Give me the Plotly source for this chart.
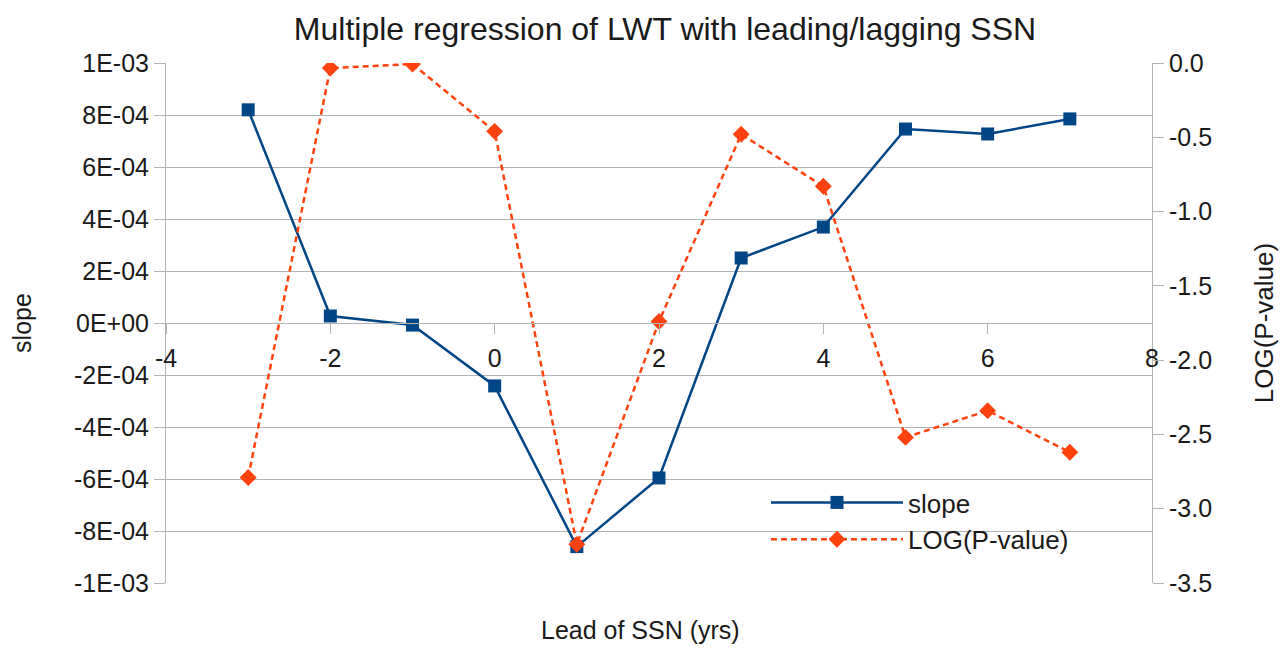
import plotly.graph_objects as go

lead_years = [-3, -2, -1, 0, 1, 2, 3, 4, 5, 6, 7]
slope = [8.2e-4, 2.7e-5, -8e-6, -2.42e-4, -8.6e-4, -5.96e-4, 2.5e-4, 3.69e-4, 7.46e-4, 7.27e-4, 7.85e-4]
log_p = [-2.79, -0.034, -0.007, -0.46, -3.24, -1.74, -0.48, -0.83, -2.52, -2.34, -2.62]

x_ticks = [-4, -2, 0, 2, 4, 6, 8]
x_tick_text = ["-4", "-2", "0", "2", "4", "6", "8"]
y1_ticks = [1e-3, 8e-4, 6e-4, 4e-4, 2e-4, 0, -2e-4, -4e-4, -6e-4, -8e-4, -1e-3]
y1_tick_text = ["1E-03", "8E-04", "6E-04", "4E-04", "2E-04", "0E+00",
                "-2E-04", "-4E-04", "-6E-04", "-8E-04", "-1E-03"]
y2_ticks = [0.0, -0.5, -1.0, -1.5, -2.0, -2.5, -3.0, -3.5]
y2_tick_text = ["0.0", "-0.5", "-1.0", "-1.5", "-2.0", "-2.5", "-3.0", "-3.5"]

BLUE = "#004586"
RED = "#ff420e"
GRID = "#b3b3b3"
TXT = "#1a1a1a"
FONT = "Liberation Sans, Arial, sans-serif"

fig = go.Figure()
fig.add_trace(go.Scatter(
    x=lead_years, y=slope, name="slope", mode="lines+markers",
    line=dict(color=BLUE, width=2.5),
    marker=dict(symbol="square", size=13, color=BLUE),
    yaxis="y",
))
fig.add_trace(go.Scatter(
    x=lead_years, y=log_p, name="LOG(P-value)", mode="lines+markers",
    line=dict(color=RED, width=2.5, dash="6px,4px"),
    marker=dict(symbol="diamond", size=13, color=RED),
    yaxis="y2",
))

fig.update_layout(
    width=1287, height=648,
    paper_bgcolor="white", plot_bgcolor="white",
    margin=dict(l=158, r=143, t=55, b=73),
    font=dict(family=FONT, color=TXT, size=24),
    title=dict(text="Multiple regression of LWT with leading/lagging SSN",
               x=0.5105, xanchor="center", y=0.968, yanchor="middle",
               font=dict(size=32, color=TXT)),
    xaxis=dict(
        range=[-4, 8], tickvals=x_ticks, ticktext=x_tick_text,
        showgrid=False, zeroline=False,
        showline=True, linecolor=GRID, linewidth=1,
        ticks="outside", ticklen=10, tickcolor=GRID,
        ticklabelstandoff=3,
        anchor="free", position=0.5, automargin=False,
        tickfont=dict(size=25),
    ),
    yaxis=dict(
        range=[-1e-3, 1e-3], tickvals=y1_ticks, ticktext=y1_tick_text,
        showgrid=True, gridcolor=GRID, gridwidth=1, zeroline=False,
        showline=True, linecolor=GRID, linewidth=1, mirror=False,
        ticks="outside", ticklen=11, tickcolor=GRID,
        tickfont=dict(size=25), automargin=False,
        title=dict(text="slope", font=dict(size=25), standoff=38),
    ),
    yaxis2=dict(
        range=[-3.5, 0], tickvals=y2_ticks, ticktext=y2_tick_text,
        overlaying="y", side="right", anchor="x",
        showgrid=False, zeroline=False,
        showline=True, linecolor=GRID, linewidth=1,
        ticks="outside", ticklen=11, tickcolor=GRID,
        tickfont=dict(size=25), automargin=False,
        title=dict(text="LOG(P-value)", font=dict(size=26), standoff=43),
    ),
    legend=dict(
        x=0.6085, y=0.2, xanchor="left", yanchor="top",
        bgcolor="rgba(0,0,0,0)", font=dict(size=26),
        itemwidth=132, tracegroupgap=0,
    ),
    showlegend=True,
    annotations=[dict(
        text="Lead of SSN (yrs)", xref="paper", yref="paper",
        x=0.481, y=-0.09, xanchor="center", yanchor="middle",
        showarrow=False, font=dict(size=25, color=TXT),
    )],
)

fig.write_html("out.html")
